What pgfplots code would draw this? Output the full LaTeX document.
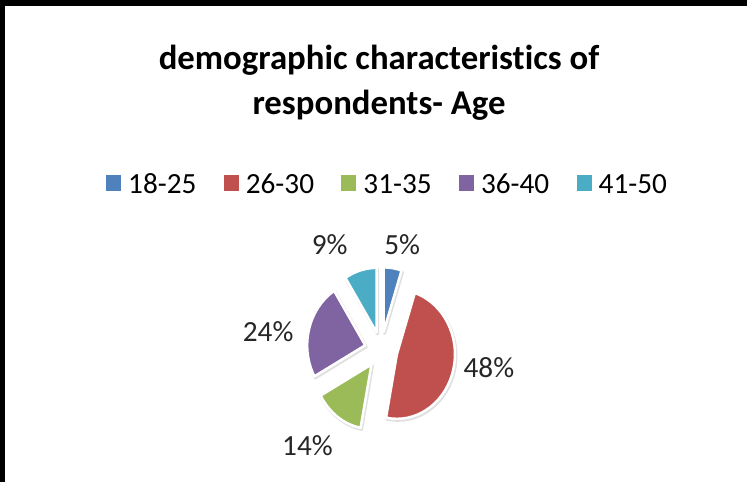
\documentclass[border=0pt]{standalone}
\usepackage{pgfplots}
\pgfplotsset{compat=1.18}
\usepackage{fontspec}
\setmainfont{Carlito}[Ligatures=NoCommon]
\definecolor{c1}{HTML}{4F81BD}
\definecolor{c2}{HTML}{C0504D}
\definecolor{c3}{HTML}{9BBB59}
\definecolor{c4}{HTML}{8064A2}
\definecolor{c5}{HTML}{4BACC6}
\def\cx{384}\def\cy{131}\def\R{64}\def\S{0.9}\def\E{18}
\newcommand{\slice}[3]{%
  \pgfmathsetmacro\aS{90-3.6*#1}%
  \pgfmathsetmacro\aE{90-3.6*(#1+#2)}%
  \pgfmathsetmacro\aM{(\aS+\aE)/2}%
  \pgfmathsetmacro\px{\cx+\S*\E*cos(\aM)}%
  \pgfmathsetmacro\py{\cy+\E*sin(\aM)}%
  \pgfmathsetmacro\dx{\S*\R*cos(\aS)}%
  \pgfmathsetmacro\dy{\R*sin(\aS)}%
  \pgfmathsetmacro\rx{\S*\R}%
  \edef\doit{\noexpand\fill[black!12, line width=3pt, draw=black!12, line join=round] (axis cs:\px+1,\py-1.5) -- ++(\dx pt,\dy pt) arc[start angle=\aS, end angle=\aE, x radius=\rx pt, y radius=\R pt] -- cycle;
  \noexpand\fill[#3, draw=white, line width=2.5pt, line join=round] (axis cs:\px,\py) -- ++(\dx pt,\dy pt) arc[start angle=\aS, end angle=\aE, x radius=\rx pt, y radius=\R pt] -- cycle;}%
  \doit}
\pgfplotsset{sq legend/.style={legend image code/.code={\fill[##1, draw=none] (0pt,-6pt) rectangle (15pt,9pt);}}}
\begin{document}
\begin{tikzpicture}
\begin{axis}[
  width=747pt, height=481pt, scale only axis,
  xmin=0, xmax=747, ymin=0, ymax=481,
  axis lines=none, clip=false,
  legend columns=5,
  legend style={at={(axis cs:111,295)}, anchor=base west, draw=none, fill=none,
    inner sep=0pt, font=\fontsize{29}{34}\selectfont,
    nodes={inner sep=0pt},
    /tikz/every odd column/.append style={column sep=7pt},
    /tikz/every even column/.append style={column sep=27pt}},
]
\fill[black] (axis cs:6,0) rectangle (axis cs:11,478);
\fill[black] (axis cs:6,472) rectangle (axis cs:747,478);
\node[anchor=base, align=center, font=\fontsize{34.5}{45}\selectfont\bfseries] at (axis cs:382,364) {demographic characteristics of\\respondents- Age};
% data: 18-25: 5, 26-30: 48, 31-35: 14, 36-40: 24, 41-50: 9
\slice{0}{5}{c1}
\slice{5}{48}{c2}
\slice{53}{14}{c3}
\slice{67}{24}{c4}
\slice{91}{9}{c5}
\addlegendimage{sq legend, fill=c1}\addlegendentry{18-25}
\addlegendimage{sq legend, fill=c2}\addlegendentry{26-30}
\addlegendimage{sq legend, fill=c3}\addlegendentry{31-35}
\addlegendimage{sq legend, fill=c4}\addlegendentry{36-40}
\addlegendimage{sq legend, fill=c5}\addlegendentry{41-50}
\begin{scope}[every node/.style={anchor=base, font=\fontsize{29}{34}\selectfont, text=black!85}]
\node at (axis cs:405,226) {5\%};
\node at (axis cs:491,104) {48\%};
\node at (axis cs:311,26) {14\%};
\node at (axis cs:272,139) {24\%};
\node at (axis cs:333,226) {9\%};
\end{scope}
\end{axis}
\end{tikzpicture}
\end{document}
